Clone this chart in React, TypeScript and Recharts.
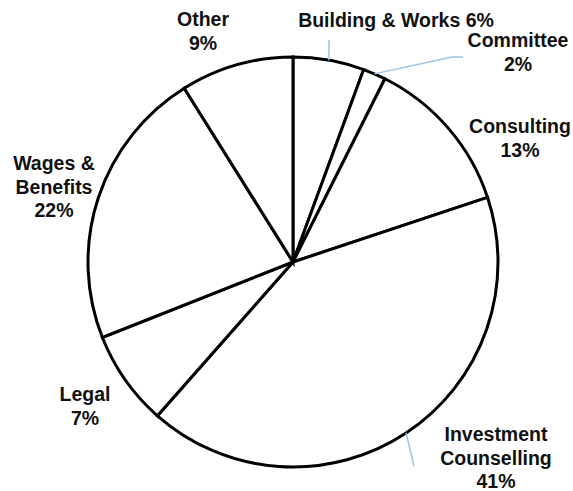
import { PieChart, Pie, Cell } from 'recharts';

const categories = [
  'Building & Works',
  'Committee',
  'Consulting',
  'Investment\nCounselling',
  'Legal',
  'Wages &\nBenefits',
  'Other',
];
const shares = [5.6, 1.8, 12.5, 41.6, 7.5, 22.1, 8.9];
const percentLabels = ['6%', '2%', '13%', '41%', '7%', '22%', '9%'];

const data = categories.map((name, i) => ({
  name,
  value: shares[i],
  pct: percentLabels[i],
}));

// where each label sits (x centre, cap centre of first line) and optional leader line bends
const LABEL_LAYOUT: {
  x: number;
  y: number;
  inline?: boolean;
  leader?: [number, number][];
}[] = [
  { x: 396, y: 20, inline: true, leader: [[329, 40]] },
  { x: 518, y: 40, leader: [[452, 57], [463, 57]] },
  { x: 520, y: 126 },
  { x: 496, y: 434, leader: [[414, 466]] },
  { x: 85, y: 394 },
  { x: 54, y: 163 },
  { x: 203, y: 19 },
];

const FONT_SIZE = 19.5;
const LINE_GAP = 23.5;
const RAD = Math.PI / 180;

const renderLabel = (props: any) => {
  const { cx, cy, midAngle, outerRadius, index } = props;
  const layout = LABEL_LAYOUT[index];
  const item = data[index];
  const lines = layout.inline
    ? [`${item.name} ${item.pct}`]
    : [...item.name.split('\n'), item.pct];
  const sx = cx + outerRadius * Math.cos(-midAngle * RAD);
  const sy = cy + outerRadius * Math.sin(-midAngle * RAD);
  const leaderPts = layout.leader ? [[sx, sy], ...layout.leader] : null;
  return (
    <g key={`label-${index}`}>
      {leaderPts && (
        <polyline
          points={leaderPts.map((p) => p.join(',')).join(' ')}
          fill="none"
          stroke="#9dc3e6"
          strokeWidth={1.5}
        />
      )}
      {lines.map((line, li) => (
        <text
          key={li}
          x={layout.x}
          y={layout.y + li * LINE_GAP + FONT_SIZE * 0.36}
          textAnchor="middle"
          fill="#111"
          fontFamily="'Liberation Sans', Arial, sans-serif"
          fontWeight="bold"
          fontSize={FONT_SIZE}
        >
          {line}
        </text>
      ))}
    </g>
  );
};

export default function App() {
  return (
    <div style={{ position: 'absolute', left: 0, top: 0, background: '#fff' }}>
      <PieChart width={573} height={491} margin={{ top: 0, right: 0, bottom: 0, left: 0 }}>
        <Pie
          data={data}
          dataKey="value"
          nameKey="name"
          cx={293}
          cy={262}
          outerRadius={205}
          startAngle={90}
          endAngle={-270}
          stroke="#000"
          strokeWidth={3}
          label={renderLabel}
          labelLine={false}
          isAnimationActive={false}
        >
          {data.map((_, i) => (
            <Cell key={`cell-${i}`} fill="#fff" stroke="#000" strokeWidth={3} />
          ))}
        </Pie>
      </PieChart>
    </div>
  );
}
